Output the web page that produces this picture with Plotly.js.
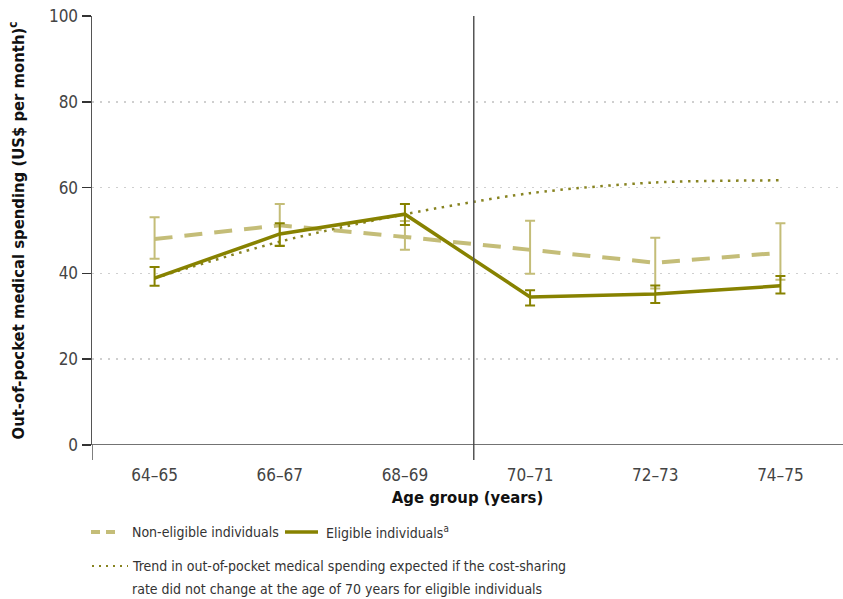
<!DOCTYPE html>
<html><head><meta charset="utf-8">
<script src="https://cdn.plot.ly/plotly-3.0.1.min.js"></script>
<style>html,body{margin:0;padding:0;background:#fff}#chart{width:843px;height:599px}</style>
</head><body><div id="chart"></div>
<script>
const ageGroups = ["64–65","66–67","68–69","70–71","72–73","74–75"];
const nonEligible = [48.0, 51.2, 48.5, 45.5, 42.5, 44.8];
const nonEligibleUpper = [53.1, 56.2, 52.2, 52.3, 48.3, 51.7];
const nonEligibleLower = [43.4, 46.5, 45.5, 39.9, 36.5, 38.5];
const eligible = [38.9, 49.2, 53.8, 34.5, 35.2, 37.1];
const eligibleUpper = [41.5, 51.7, 56.2, 36.1, 37.2, 39.4];
const eligibleLower = [37.1, 46.4, 51.3, 32.5, 33.1, 35.3];
const expectedTrend = [38.9, 47.4, 53.8, 58.7, 61.2, 61.7];
const yTicks = [0, 20, 40, 60, 80, 100];

const olive = '#878200', khaki = '#c4bd78', dotCol = '#878320';
const F = '"DejaVu Sans Condensed", "Liberation Sans Narrow", "Open Sans", sans-serif';
const xi = ageGroups.map((_, i) => i);
const up = (v, u) => u.map((x, i) => +(x - v[i]).toFixed(2));
const dn = (v, l) => l.map((x, i) => +(v[i] - x).toFixed(2));

const traces = [
  {x: xi, y: nonEligible, type: 'scatter', mode: 'lines', name: 'Non-eligible individuals',
   line: {color: khaki, width: 4, dash: '18px,12px'},
   error_y: {type: 'data', array: up(nonEligible, nonEligibleUpper), arrayminus: dn(nonEligible, nonEligibleLower),
             color: khaki, thickness: 2, width: 5}},
  {x: xi, y: expectedTrend, type: 'scatter', mode: 'lines', name: 'Expected trend',
   line: {color: dotCol, width: 2.5, dash: '2.5px,5.5px', shape: 'spline', smoothing: 0.8}},
  {x: xi, y: eligible, type: 'scatter', mode: 'lines', name: 'Eligible individuals',
   line: {color: olive, width: 3.5},
   error_y: {type: 'data', array: up(eligible, eligibleUpper), arrayminus: dn(eligible, eligibleLower),
             color: olive, thickness: 2, width: 5}}
];

const ext = -15/429;
const layout = {
  width: 843, height: 599, showlegend: false,
  paper_bgcolor: '#fff', plot_bgcolor: '#fff',
  margin: {l: 92, r: 0, t: 16, b: 154},
  font: {family: F, color: '#444', size: 17},
  xaxis: {range: [-0.5, 5.5], tickvals: xi, ticktext: ageGroups, ticks: 'outside', ticklen: 15, tickcolor: 'rgba(0,0,0,0)',
          showgrid: false, zeroline: false, showline: false, tickfont: {size: 17, color: '#444'},
          title: {text: 'Age group (years)', font: {size: 16.5, color: '#111', family: F, weight: 'bold'}, standoff: 7}},
  yaxis: {range: [0, 100], tickvals: yTicks, ticks: 'outside', ticklen: 9, tickcolor: '#333', tickwidth: 1.5,
          showgrid: true, gridcolor: '#cfcfcf', griddash: '2px,6px', gridwidth: 1.5,
          zeroline: false, showline: true, linecolor: '#555', linewidth: 1.5, tickfont: {size: 17, color: '#444'},
          title: {text: 'Out-of-pocket medical spending (US$ per month)<sup>c</sup>', font: {size: 16.5, color: '#111', family: F, weight: 'bold'}, standoff: 20}},
  shapes: [
    {type: 'line', xref: 'x', yref: 'paper', x0: 2.55, x1: 2.55, y0: ext, y1: 1, line: {color: '#555', width: 1.5}},
    {type: 'line', xref: 'x', yref: 'paper', x0: -0.5, x1: -0.5, y0: ext, y1: 0, line: {color: '#555', width: 1.5}},
    {type: 'line', xref: 'paper', yref: 'y', x0: 0, x1: 1, y0: 0, y1: 0, line: {color: '#444', width: 1.5}},
    // legend samples
    {type: 'line', xref: 'paper', yref: 'paper', x0: -1/751, x1: 28/751, y0: -87/429, y1: -87/429, line: {color: khaki, width: 4, dash: '9px,6px'}},
    {type: 'line', xref: 'paper', yref: 'paper', x0: 193/751, x1: 226/751, y0: -87/429, y1: -87/429, line: {color: olive, width: 3.5}},
    {type: 'line', xref: 'paper', yref: 'paper', x0: 0, x1: 36/751, y0: -121/429, y1: -121/429, line: {color: dotCol, width: 2, dash: '2px,5px'}}
  ],
  annotations: [
    {xref: 'paper', yref: 'paper', x: 38/751, y: -87/429, xanchor: 'left', yanchor: 'middle', showarrow: false,
     text: 'Non-eligible individuals', font: {size: 14, color: '#333', family: F}},
    {xref: 'paper', yref: 'paper', x: 232/751, y: -87/429, xanchor: 'left', yanchor: 'middle', showarrow: false,
     text: 'Eligible individuals<sup>a</sup>', font: {size: 14, color: '#333', family: F}},
    {xref: 'paper', yref: 'paper', x: 38/751, y: -121/429, xanchor: 'left', yanchor: 'middle', showarrow: false, align: 'left',
     text: 'Trend in out-of-pocket medical spending expected if the cost-sharing',
     font: {size: 14, color: '#333', family: F}},
    {xref: 'paper', yref: 'paper', x: 38/751, y: -144/429, xanchor: 'left', yanchor: 'middle', showarrow: false, align: 'left',
     text: 'rate did not change at the age of 70 years for eligible individuals',
     font: {size: 14, color: '#333', family: F}}
  ]
};
Plotly.newPlot('chart', traces, layout, {displayModeBar: false, staticPlot: true});
</script></body></html>
